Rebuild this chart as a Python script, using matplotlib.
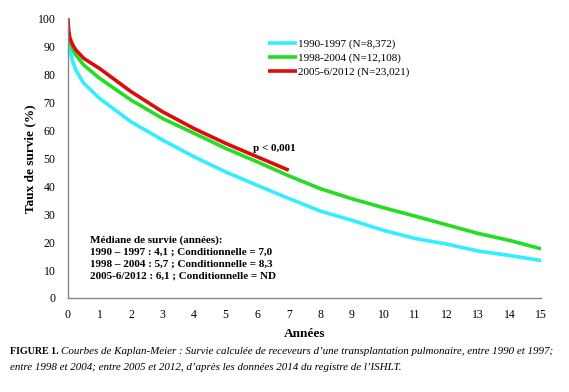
import matplotlib
matplotlib.use("Agg")
import matplotlib.pyplot as plt

# Data (years, survival %)
t_cyan = [0, 0.05, 0.15, 0.25, 0.5, 1, 2, 3, 4, 5, 6, 7, 8, 9, 10, 11, 12, 13, 14, 15]
s_cyan = [95, 89, 84.5, 81.5, 76.8, 71.4, 63.0, 56.5, 50.5, 45.1, 40.3, 35.6, 31.1, 27.8, 24.2, 21.3, 19.3, 16.8, 15.2, 13.4]
t_green = [0, 0.05, 0.15, 0.25, 0.5, 1, 2, 3, 4, 5, 6, 7, 8, 9, 10, 11, 12, 13, 14, 15]
s_green = [95.5, 92.5, 89, 86.9, 83.3, 78.6, 70.8, 64.2, 58.9, 53.5, 48.7, 43.7, 39.1, 35.5, 32.3, 29.3, 26.2, 23.1, 20.6, 17.6]
t_red = [0, 0.02, 0.06, 0.15, 0.25, 0.5, 1, 2, 3, 4, 5, 6, 7]
s_red = [100, 96, 93, 90.5, 88.7, 85.7, 82.1, 73.8, 66.6, 60.6, 55.3, 50.5, 45.7]
labels = ["1990-1997 (N=8,372)", "1998-2004 (N=12,108)", "2005-6/2012 (N=23,021)"]
colors = ["#33EEFF", "#22DD22", "#DD0C0C"]
xticks = list(range(0, 16))
yticks = list(range(0, 101, 10))

serif = ["Liberation Serif", "DejaVu Serif"]
plt.rcParams['font.family'] = serif

fig = plt.figure(figsize=(5.69, 3.92), dpi=100)
ax = fig.add_axes([0.1195, 0.2398, 0.8315, 0.7132])

for t, s, c, l in zip([t_cyan, t_green, t_red], [s_cyan, s_green, s_red], colors, labels):
    ax.plot(t, s, color=c, lw=2.6, label=l, solid_capstyle='butt')

ax.set_xlim(0, 15)
ax.set_ylim(0, 100)
ax.set_xticks(xticks)
ax.set_yticks(yticks)
ax.tick_params(axis='y', length=0, labelsize=8.5, pad=9)
ax.tick_params(axis='x', length=0, labelsize=8.5, pad=8)
for sp in ['top', 'right']:
    ax.spines[sp].set_visible(False)
for sp in ['left', 'bottom']:
    ax.spines[sp].set_color('#888888')
    ax.spines[sp].set_linewidth(1)

ax.set_xlabel("Années", fontsize=9.5, fontweight='bold', labelpad=5)
ax.set_ylabel("Taux de survie (%)", fontsize=9.5, fontweight='bold', labelpad=1)

leg = ax.legend(loc='upper left', bbox_to_anchor=(268/569, 1 - 39/392), bbox_transform=fig.transFigure,
                frameon=False, fontsize=8, handlelength=2.6, handletextpad=0.1, labelspacing=0.35,
                borderaxespad=0, borderpad=0)

ax.text(5.85, 52.5, "p < 0,001", fontsize=8, fontweight='bold')

med = ["Médiane de survie (années):",
       "1990 – 1997 : 4,1 ; Conditionnelle = 7,0",
       "1998 – 2004 : 5,7 ; Conditionnelle = 8,3",
       "2005-6/2012 : 6,1 ; Conditionnelle = ND"]
for i, line in enumerate(med):
    fig.text(90/569, 1 - (240 + 12 * i) / 392, line, fontsize=8, fontweight='bold', va='center')

fig.text(10/569, 1 - 351/392, "FIGURE 1.", fontsize=7.2, fontweight='bold', va='center')
fig.text(61/569, 1 - 351/392,
         "Courbes de Kaplan-Meier : Survie calculée de receveurs d’une transplantation pulmonaire, entre 1990 et 1997;",
         fontsize=7.9, style='italic', va='center')
fig.text(10/569, 1 - 368/392,
         "entre 1998 et 2004; entre 2005 et 2012, d’après les données 2014 du registre de l’ISHLT.",
         fontsize=7.9, style='italic', va='center')

fig.savefig("out.png", dpi=100)
